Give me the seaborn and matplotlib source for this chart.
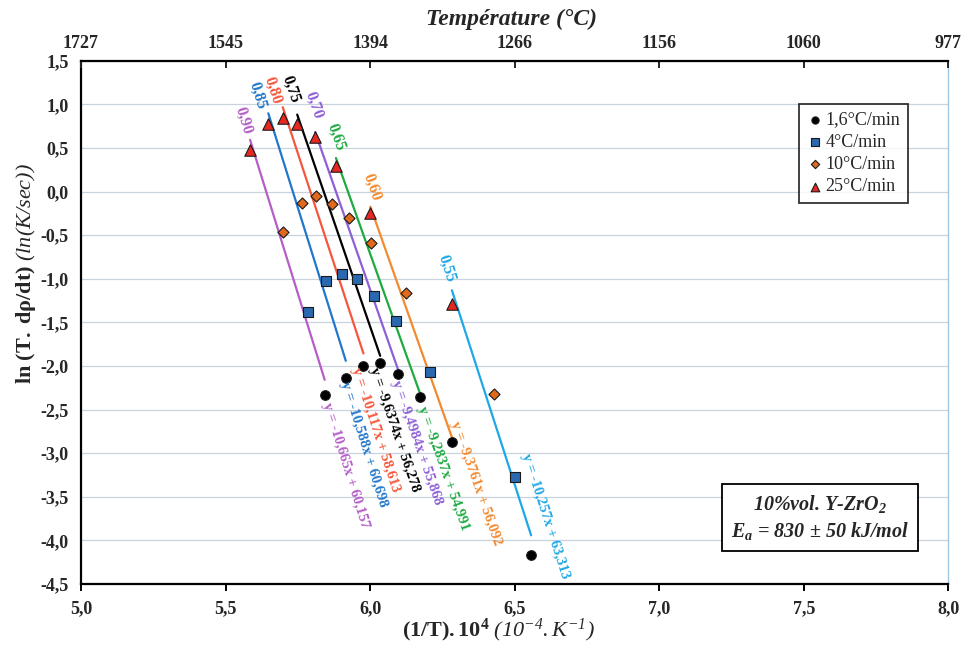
"""
Arrhenius plot, 10%vol Y-ZrO2 - iso-conversion lines
"""
import matplotlib
matplotlib.use('Agg')
import matplotlib.pyplot as plt
import seaborn as sns
import pandas as pd
import numpy as np

sns.set_style('white')
plt.rcParams['font.family'] = ['Liberation Serif', 'DejaVu Serif']
plt.rcParams['mathtext.fontset'] = 'custom'
# rm en italique : les chiffres/parentheses de \mathit passent par rm
plt.rcParams['mathtext.rm'] = 'Liberation Serif:italic'
plt.rcParams['mathtext.it'] = 'Liberation Serif:italic'
plt.rcParams['mathtext.bf'] = 'Liberation Serif:bold'
plt.rcParams['mathtext.bfit'] = 'Liberation Serif:italic:bold'

# data
conversions = [0.90, 0.85, 0.80, 0.75, 0.70, 0.65, 0.60, 0.55]

x_16 = [5.843, 5.916, 5.977, 6.035, 6.098, 6.171, 6.285, 6.557]
y_16 = [-2.335, -2.135, -2.00, -1.97, -2.09, -2.36, -2.87, -4.17]
x_4 = [5.787, 5.848, 5.904, 5.956, 6.012, 6.090, 6.208, 6.502]
y_4 = [-1.38, -1.03, -0.95, -1.00, -1.195, -1.49, -2.07, -3.27]
x_10 = [5.698, 5.764, 5.813, 5.867, 5.928, 6.003, 6.124, 6.429]
y_10 = [-0.465, -0.135, -0.05, -0.14, -0.30, -0.59, -1.16, -2.32]
x_25 = [5.585, 5.648, 5.698, 5.748, 5.810, 5.882, 6.001, 6.283]
y_25 = [0.48, 0.77, 0.84, 0.775, 0.63, 0.29, -0.25, -1.29]

rates = ['1,6°C/min', '4°C/min', '10°C/min', '25°C/min']

slopes = [-10.665, -10.588, -10.117, -9.6374, -9.4984, -9.2837, -9.3761, -10.257]
intercepts = [60.157, 60.698, 58.613, 56.278, 55.868, 54.991, 56.092, 63.313]

x_ticks = [5.0, 5.5, 6.0, 6.5, 7.0, 7.5, 8.0]
temp_labels = ['1727', '1545', '1394', '1266', '1156', '1060', '977']
y_ticks = [1.5, 1.0, 0.5, 0.0, -0.5, -1.0, -1.5, -2.0, -2.5, -3.0, -3.5, -4.0, -4.5]

# style
line_colors = ['#b45ec6', '#2277cc', '#f5573c', '#000000', '#8e5fd6', '#1faa42', '#f28a30', '#1ea8e6']
marker_style = {
    '1,6°C/min': dict(marker='o', color='#000000', s=48),
    '4°C/min': dict(marker='s', color='#2a68b0', s=58),
    '10°C/min': dict(marker='D', color='#e0691c', s=32),
    '25°C/min': dict(marker='^', color='#e82820', s=68),
}
# offsets (points) of the labels from line top / line bottom
conv_offsets = [(-5, 14), (-8, 13), (-7, 12), (-5, 18), (-1, 19), (0, 15), (1, 14), (-4, 16)]
eq_offsets = [(15, -62), (13, -60), (9, -55), (10, -53), (13, -52), (17, -55), (17, -32), (10, 14)]

df = pd.DataFrame({
    'x': x_16 + x_4 + x_10 + x_25,
    'y': y_16 + y_4 + y_10 + y_25,
    'rate': [r for r in rates for _ in conversions],
    'conv': conversions * 4,
})

fig, ax = plt.subplots(figsize=(9.65, 6.46), dpi=100)
fig.subplots_adjust(left=0.0839, right=0.9827, bottom=0.096, top=0.906)
ax.set_xlim(5.0, 8.0)
ax.set_ylim(-4.5, 1.5)

# grille horizontale
ax.set_yticks(y_ticks)
ax.yaxis.grid(True, color='#c9d3de', linewidth=0.9)
ax.xaxis.grid(False)
ax.set_axisbelow(True)

# droites de regression (iso-conversion)
for i, c in enumerate(conversions):
    sub = df[df['conv'] == c]
    xs = np.array([sub['x'].min(), sub['x'].max()])
    ys = slopes[i] * xs + intercepts[i]
    sns.lineplot(x=xs, y=ys, ax=ax, color=line_colors[i], linewidth=1.6, zorder=2)

# points
for r in rates:
    sub = df[df['rate'] == r]
    st = marker_style[r]
    sns.scatterplot(data=sub, x='x', y='y', ax=ax, marker=st['marker'], color=st['color'],
                    s=st['s'], edgecolor='#1a1a1a', linewidth=0.8, label=r, zorder=3)

# etiquettes
def line_angle(slope):
    p0 = ax.transData.transform((6.0, 0.0))
    p1 = ax.transData.transform((6.1, slope * 0.1))
    return np.degrees(np.arctan2(p1[1] - p0[1], p1[0] - p0[0]))

for i, c in enumerate(conversions):
    sub = df[df['conv'] == c]
    x_top, x_bot = sub['x'].min(), sub['x'].max()
    ang = line_angle(slopes[i])
    ax.annotate(f'{c:.2f}'.replace('.', ','), (x_top, slopes[i] * x_top + intercepts[i]),
                xytext=conv_offsets[i], textcoords='offset points', rotation=ang,
                rotation_mode='anchor', ha='center', va='center', fontsize=11.5,
                fontweight='bold', color=line_colors[i])
    eq = f'y = {slopes[i]:.5g}x + {intercepts[i]:.5g}'.replace('.', ',')
    ax.annotate(eq, (x_bot, slopes[i] * x_bot + intercepts[i]),
                xytext=eq_offsets[i], textcoords='offset points', rotation=ang,
                rotation_mode='anchor', ha='center', va='center', fontsize=10.5,
                fontweight='bold', color=line_colors[i])

# axes
fmt = lambda v: f'{v:.1f}'.replace('.', ',').replace('-0,0', '0,0')
ax.set_xticks(x_ticks)
ax.set_xticklabels([fmt(v) for v in x_ticks], fontweight='bold', fontsize=13)
ax.set_yticklabels([fmt(v) for v in y_ticks], fontweight='bold', fontsize=13)
ax.tick_params(axis='both', direction='out', length=5, width=1.4, color='black', pad=4)
ax.tick_params(axis='x', pad=7)

for side in ['left', 'bottom']:
    ax.spines[side].set_color('black')
    ax.spines[side].set_linewidth(1.6)
ax.spines['top'].set_visible(False)
ax.spines['right'].set_color('#9cc8e6')
ax.spines['right'].set_linewidth(1.0)

ax.set_xlabel(r'$\mathbf{(1/T).10^{4}}\ \mathit{(10^{-4}.K^{-1})}$', fontsize=16)
ax.xaxis.set_label_coords(0.481, -0.062)
ax.set_ylabel(r'$\mathbf{ln\ (T.\ d\rho/dt)}\ \mathit{(ln(K/sec))}$', fontsize=16)
ax.yaxis.set_label_coords(-0.050, 0.594)

# axe superieur : temperature
ax2 = ax.twiny()
ax2.set_xlim(ax.get_xlim())
ax2.set_xticks(x_ticks)
ax2.set_xticklabels(temp_labels, fontweight='bold', fontsize=13)
ax2.tick_params(axis='x', direction='in', length=5, width=1.4, pad=6)
for side in ['left', 'right', 'bottom']:
    ax2.spines[side].set_visible(False)
ax2.spines['top'].set_color('black')
ax2.spines['top'].set_linewidth(1.6)
ax2.set_xlabel('Température (°C)', fontsize=17, fontweight='bold', style='italic')
ax2.xaxis.set_label_coords(0.496, 1.068)

# legende
leg = ax.legend(loc='upper right', bbox_to_anchor=(0.9636, 0.9345), fontsize=13,
                frameon=True, fancybox=False, edgecolor='black', handletextpad=0.1,
                borderpad=0.4, labelspacing=0.3, handlelength=1.0, markerscale=0.75)
leg.get_frame().set_linewidth(1.3)

# boite d'information
ax.text(0.852, 0.127, '10%vol. Y-ZrO$_{\\mathbfit{2}}$\n$\\mathbfit{E_a}$ = 830 ± 50 kJ/mol',
        transform=ax.transAxes, ha='center', va='center', fontsize=14.5,
        fontweight='bold', style='italic', linespacing=1.25,
        bbox=dict(boxstyle='square,pad=0.45', fc='white', ec='black', lw=1.3))

plt.savefig('out.png', dpi=100)
